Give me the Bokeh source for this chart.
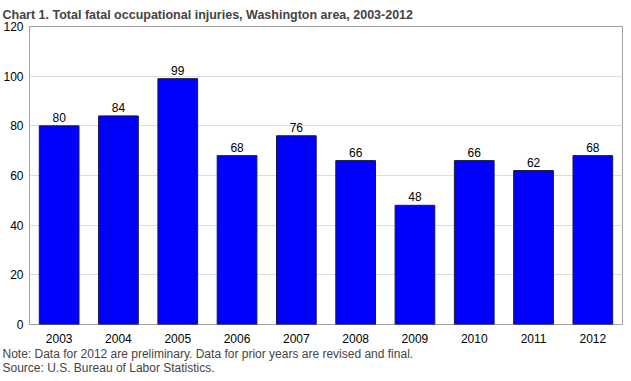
from bokeh.plotting import figure
from bokeh.models import ColumnDataSource, Title, LabelSet, FixedTicker
from bokeh.core.properties import value
from bokeh.embed import file_html
from bokeh.resources import INLINE

years = ["2003", "2004", "2005", "2006", "2007", "2008", "2009", "2010", "2011", "2012"]
injuries = [80, 84, 99, 68, 76, 66, 48, 66, 62, 68]
y_ticks = [0, 20, 40, 60, 80, 100, 120]

title_text = "Chart 1. Total fatal occupational injuries, Washington area, 2003-2012"
note_text = "Note: Data for 2012 are preliminary. Data for prior years are revised and final."
source_text = "Source: U.S. Bureau of Labor Statistics."

FONT = "Liberation Sans"

src = ColumnDataSource(dict(x=years, y=injuries, lab=[str(v) for v in injuries]))

p = figure(x_range=years, y_range=(0, 120), width=623, height=373,
           output_backend="svg", toolbar_location=None,
           min_border_left=20, min_border_right=1, min_border_top=0, min_border_bottom=0)

p.vbar(x="x", top="y", width=0.67, source=src, fill_color="#0000FF",
       line_color="#1a1a40", line_width=1)

labels = LabelSet(x="x", y="y", text="lab", source=src, text_align="center",
                  text_baseline="bottom", y_offset=4, text_font=value(FONT),
                  text_font_size=value("12px"), text_color="#000000")
p.add_layout(labels)

p.title.text = title_text
p.title.text_font = FONT
p.title.text_font_size = "12.5px"
p.title.text_font_style = "bold"
p.title.align = "left"
p.title.offset = -27
p.title.standoff = 10

p.x_range.range_padding = 0
p.yaxis.ticker = FixedTicker(ticks=y_ticks)
p.ygrid.ticker = FixedTicker(ticks=y_ticks)
p.xgrid.grid_line_color = None
p.ygrid.grid_line_color = "#dcdcdc"
p.ygrid.grid_line_width = 1

for ax in (p.xaxis, p.yaxis):
    ax.axis_line_color = None
    ax.major_tick_line_color = None
    ax.minor_tick_line_color = None
    ax.major_tick_out = 0
    ax.major_tick_in = 0
    ax.major_label_text_font = FONT
    ax.major_label_text_font_size = "12px"
    ax.major_label_text_color = "#000000"
p.yaxis.major_label_standoff = 6
p.xaxis.major_label_standoff = 9

p.outline_line_color = "#a0a0a0"
p.outline_line_width = 1

p.add_layout(Title(text=note_text, align="left", offset=-27, text_font=FONT,
                   text_font_size="12px", text_font_style="normal", standoff=-2,
                   text_line_height=0.9), "below")
p.add_layout(Title(text=source_text, align="left", offset=-27, text_font=FONT,
                   text_font_size="12px", text_font_style="normal", standoff=-2,
                   text_line_height=0.9), "below")

open("out.html", "w").write(file_html(p, INLINE))
